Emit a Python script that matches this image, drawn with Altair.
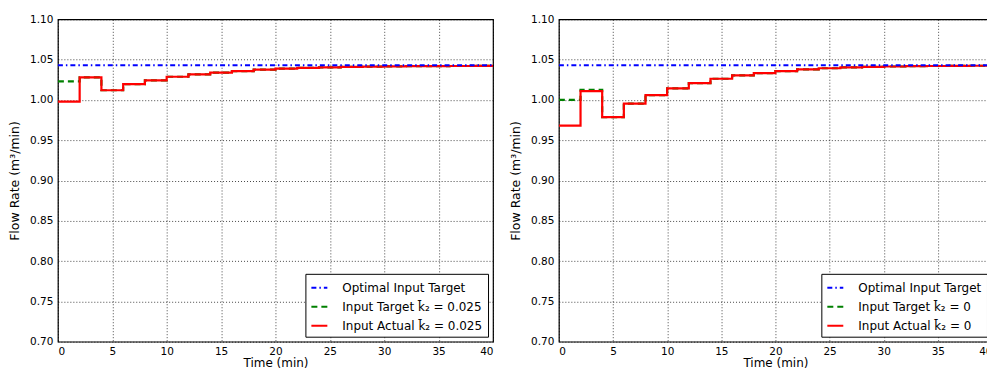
import altair as alt
import pandas as pd

# ---- data ----
time_steps = [0, 2, 4, 6, 8, 10, 12, 14, 16, 18, 20, 22, 24, 26, 28, 30, 32, 34, 36, 38, 40]
optimal_target = 1.043

left_actual = [0.998, 1.028, 1.012, 1.0197, 1.0242, 1.0288, 1.0317, 1.0338, 1.0358, 1.0375,
               1.0388, 1.0398, 1.0405, 1.0410, 1.0414, 1.0417, 1.0419, 1.0420, 1.0421, 1.0422, 1.0422]
left_target = [1.023, 1.028, 1.012, 1.0197, 1.0242, 1.0288, 1.0317, 1.0338, 1.0358, 1.0375,
               1.0388, 1.0398, 1.0405, 1.0410, 1.0414, 1.0417, 1.0419, 1.0420, 1.0421, 1.0422, 1.0422]

right_actual = [0.968, 1.011, 0.9787, 0.9953, 1.006, 1.0143, 1.0209, 1.0263, 1.0304, 1.0333,
                1.0358, 1.0379, 1.0393, 1.0403, 1.0410, 1.0415, 1.0419, 1.0421, 1.0423, 1.0424, 1.0424]
right_target = [1.000, 1.0126, 0.9787, 0.9953, 1.006, 1.0143, 1.0209, 1.0263, 1.0304, 1.0333,
                1.0358, 1.0379, 1.0393, 1.0403, 1.0410, 1.0415, 1.0419, 1.0421, 1.0423, 1.0424, 1.0424]

left_labels = ["Optimal Input Target", "Input Target k̄₂ = 0.025", "Input Actual k̄₂ = 0.025"]
right_labels = ["Optimal Input Target", "Input Target k̄₂ = 0", "Input Actual k̄₂ = 0"]

colors = ["#0000ff", "#008000", "#ff0000"]
dashes = [[5, 3, 1.5, 3], [6, 4], [1, 0]]

FONT = "DejaVu Sans"


def panel(actual, target, labels, width):
    opt = pd.DataFrame({"t": [0, 40], "v": [optimal_target, optimal_target], "series": labels[0]})
    tgt = pd.DataFrame({"t": time_steps, "v": target, "series": labels[1]})
    act = pd.DataFrame({"t": time_steps, "v": actual, "series": labels[2]})

    color = alt.Color("series:N", scale=alt.Scale(domain=labels, range=colors),
                      legend=alt.Legend(title=None, orient="bottom-right", offset=5,
                                        strokeColor="black", fillColor="white",
                                        padding=5, cornerRadius=0,
                                        symbolType="stroke", symbolSize=256,
                                        symbolStrokeWidth=2, labelFontSize=12,
                                        labelFont=FONT, rowPadding=4, labelLimit=300,
                                        labelOffset=14))
    dash = alt.StrokeDash("series:N", scale=alt.Scale(domain=labels, range=dashes), legend=None)
    x = alt.X("t:Q", scale=alt.Scale(domain=[0, 40], nice=False),
              axis=alt.Axis(values=list(range(0, 41, 5)), title="Time (min)", format="d"))
    y = alt.Y("v:Q", scale=alt.Scale(domain=[0.70, 1.10], nice=False, zero=False),
              axis=alt.Axis(values=[round(0.70 + 0.05 * i, 2) for i in range(9)],
                            format=".2f", title="Flow Rate  (m³/min)"))

    def line(df, w):
        return alt.Chart(df).mark_line(interpolate="step-after", strokeWidth=w, clip=True).encode(
            x=x, y=y, color=color, strokeDash=dash)

    return alt.layer(line(tgt, 2.2), line(act, 2.2), line(opt, 2)).properties(width=width, height=323)


left = panel(left_actual, left_target, left_labels, 436)
right = panel(right_actual, right_target, right_labels, 434)

chart = alt.hconcat(left, right, spacing=15).resolve_scale(
    color="independent", strokeDash="independent").resolve_legend(
    color="independent", strokeDash="independent").properties(
    padding={"left": 0, "top": 5, "right": -6, "bottom": 0}
).configure_view(stroke="black", strokeWidth=1.2).configure_axis(
    domain=False, ticks=False, labelPadding=5,
    grid=True, gridColor="black", gridDash=[1, 2], gridOpacity=0.9, gridWidth=0.8,
    labelFont=FONT, labelFontSize=10.5, labelColor="black",
    titleFont=FONT, titleFontSize=12.5, titleFontWeight="normal", titleColor="black",
).configure_axisY(titlePadding=8).configure_axisX(titlePadding=0, titleFontSize=12)

chart.save("out.html", embed_options={"renderer": "svg", "actions": False})
